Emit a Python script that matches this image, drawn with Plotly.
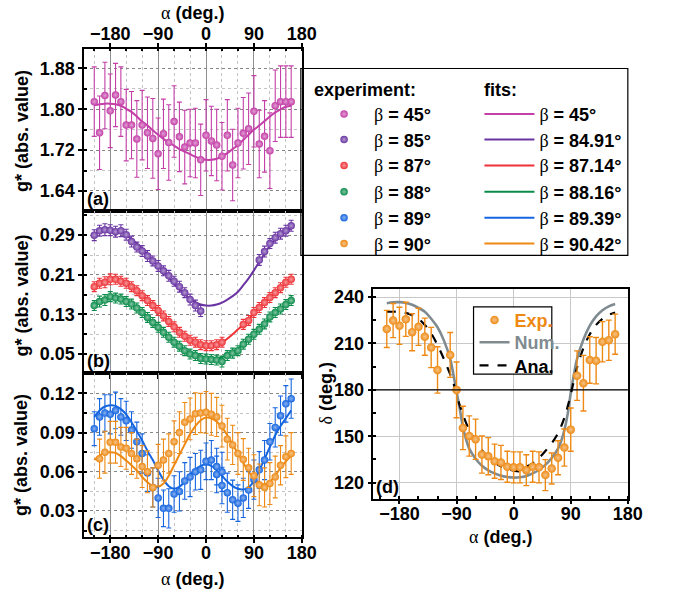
import plotly.graph_objects as go

W, H = 694, 593
FONT = "Liberation Sans, Arial, sans-serif"
SERIF = "Liberation Serif, Times New Roman, serif"

# ---------------- data ----------------
alpha_full = [-210, -200, -190, -180, -170, -160, -150, -140, -130, -120, -110, -100, -90, -80,
              -70, -60, -50, -40, -30, -20, -10, 0, 10, 20, 30, 40, 50, 60, 70, 80, 90, 100,
              110, 120, 130, 140, 150, 160]

# panel (a)  beta = 45
alpha_45 = alpha_full
g_45 = [1.815, 1.754, 1.827, 1.797, 1.828, 1.815, 1.769, 1.769, 1.742, 1.769, 1.754, 1.743, 1.713,
        1.752, 1.735, 1.776, 1.746, 1.726, 1.734, 1.734, 1.701, 1.749, 1.738, 1.730, 1.708, 1.749,
        1.691, 1.734, 1.753, 1.762, 1.796, 1.732, 1.747, 1.719, 1.807, 1.815, 1.815, 1.815]
e_45 = [0.068, 0.072, 0.065, 0.072, 0.062, 0.068, 0.070, 0.066, 0.075, 0.068, 0.070, 0.078, 0.070,
        0.068, 0.074, 0.070, 0.068, 0.072, 0.066, 0.068, 0.070, 0.070, 0.068, 0.070, 0.066, 0.070,
        0.070, 0.068, 0.070, 0.070, 0.070, 0.066, 0.070, 0.074, 0.070, 0.070, 0.070, 0.070]
fit_45 = [1.808, 1.810, 1.811, 1.811, 1.810, 1.807, 1.801, 1.795, 1.786, 1.776, 1.768, 1.759, 1.750,
          1.742, 1.735, 1.729, 1.722, 1.717, 1.712, 1.707, 1.703, 1.701, 1.701, 1.703, 1.708, 1.714,
          1.722, 1.730, 1.740, 1.750, 1.760, 1.768, 1.777, 1.786, 1.794, 1.800, 1.805, 1.807]

# panel (b)
alpha_85 = [-210, -200, -190, -180, -170, -160, -150, -140, -130, -120, -110, -100, -90, -80,
            -70, -60, -50, -40, -30, -20, -10, 100, 110, 120, 130, 140, 150, 160]
g_85 = [0.290, 0.299, 0.301, 0.300, 0.297, 0.299, 0.291, 0.277, 0.266, 0.258, 0.248, 0.238, 0.228,
        0.218, 0.208, 0.197, 0.186, 0.174, 0.160, 0.148, 0.137, 0.240, 0.257, 0.273, 0.285, 0.293,
        0.299, 0.309]
e_85 = [0.011, 0.011, 0.012, 0.011, 0.011, 0.012, 0.011, 0.011, 0.010, 0.011, 0.011, 0.010, 0.011,
        0.010, 0.011, 0.010, 0.011, 0.010, 0.011, 0.011, 0.011, 0.011, 0.011, 0.010, 0.011, 0.011,
        0.011, 0.011]
fit_85 = [0.292, 0.297, 0.299, 0.300, 0.299, 0.296, 0.290, 0.282, 0.273, 0.263, 0.252, 0.240, 0.228,
          0.216, 0.204, 0.192, 0.181, 0.171, 0.162, 0.155, 0.150, 0.148, 0.148, 0.150, 0.154, 0.160,
          0.167, 0.176, 0.189, 0.203, 0.219, 0.236, 0.253, 0.269, 0.281, 0.290, 0.297, 0.303]

alpha_87 = [-210, -200, -190, -180, -170, -160, -150, -140, -130, -120, -110, -100, -90, -80,
            -70, -60, -50, -40, -30, -20, -10, 0, 10, 20, 30, 70, 80, 90, 100, 110, 120, 130,
            140, 150, 160]
g_87 = [0.186, 0.193, 0.195, 0.201, 0.201, 0.197, 0.193, 0.186, 0.178, 0.168, 0.158, 0.148, 0.138,
        0.127, 0.116, 0.105, 0.094, 0.086, 0.078, 0.074, 0.069, 0.067, 0.067, 0.069, 0.074, 0.110,
        0.118, 0.134, 0.144, 0.154, 0.164, 0.174, 0.184, 0.195, 0.201]
e_87 = [0.010, 0.010, 0.011, 0.011, 0.010, 0.010, 0.010, 0.010, 0.010, 0.010, 0.010, 0.010, 0.010,
        0.010, 0.010, 0.010, 0.010, 0.010, 0.010, 0.010, 0.010, 0.010, 0.010, 0.010, 0.010, 0.010,
        0.010, 0.010, 0.010, 0.010, 0.010, 0.010, 0.010, 0.010, 0.010]
fit_87 = [0.188, 0.194, 0.198, 0.200, 0.200, 0.197, 0.192, 0.185, 0.177, 0.168, 0.158, 0.148, 0.137,
          0.126, 0.115, 0.105, 0.095, 0.087, 0.079, 0.073, 0.069, 0.066, 0.066, 0.068, 0.073, 0.081,
          0.090, 0.100, 0.110, 0.121, 0.132, 0.143, 0.154, 0.164, 0.174, 0.184, 0.193, 0.200]

alpha_88 = alpha_full
g_88 = [0.148, 0.156, 0.159, 0.166, 0.163, 0.161, 0.156, 0.151, 0.143, 0.134, 0.124, 0.114, 0.104,
        0.094, 0.084, 0.074, 0.066, 0.057, 0.050, 0.047, 0.041, 0.040, 0.039, 0.038, 0.035, 0.047,
        0.052, 0.057, 0.070, 0.080, 0.090, 0.100, 0.111, 0.125, 0.134, 0.141, 0.150, 0.158]
e_88 = [0.010, 0.011, 0.011, 0.010, 0.010, 0.010, 0.010, 0.010, 0.010, 0.010, 0.010, 0.010, 0.010,
        0.010, 0.010, 0.010, 0.010, 0.010, 0.010, 0.010, 0.010, 0.010, 0.010, 0.010, 0.011, 0.010,
        0.010, 0.010, 0.010, 0.010, 0.010, 0.010, 0.010, 0.010, 0.010, 0.010, 0.010, 0.010]
fit_88 = [0.150, 0.156, 0.160, 0.162, 0.162, 0.160, 0.156, 0.150, 0.142, 0.133, 0.123, 0.113, 0.103,
          0.093, 0.083, 0.074, 0.066, 0.059, 0.053, 0.048, 0.045, 0.043, 0.042, 0.042, 0.044, 0.048,
          0.054, 0.061, 0.070, 0.080, 0.090, 0.101, 0.112, 0.123, 0.133, 0.141, 0.149, 0.156]

# panel (c)
alpha_89 = [-210, -200, -190, -180, -170, -160, -150, -140, -130, -120, -110, -100, -90, -80,
            -70, -60, -50, -40, -30, -20, -10, 0, 10, 20, 20, 30, 30, 40, 50, 60, 70, 80, 90,
            100, 110, 120, 130, 140, 150, 160]
g_89 = [0.093, 0.102, 0.105, 0.104, 0.107, 0.102, 0.099, 0.092, 0.083, 0.074, 0.059, 0.048, 0.040,
        0.032, 0.032, 0.043, 0.045, 0.053, 0.056, 0.060, 0.0615, 0.068, 0.069, 0.064, 0.058, 0.060,
        0.0495, 0.044, 0.0386, 0.036, 0.040, 0.046, 0.054, 0.0615, 0.069, 0.083, 0.094, 0.103,
        0.112, 0.116]
e_89 = [0.013, 0.014, 0.014, 0.015, 0.014, 0.014, 0.015, 0.014, 0.015, 0.015, 0.014, 0.015, 0.015,
        0.014, 0.015, 0.014, 0.015, 0.014, 0.015, 0.014, 0.015, 0.014, 0.015, 0.014, 0.014, 0.015,
        0.014, 0.015, 0.015, 0.014, 0.015, 0.014, 0.015, 0.014, 0.015, 0.014, 0.015, 0.015, 0.014,
        0.015]
fit_89 = [0.102, 0.107, 0.110, 0.111, 0.1105, 0.108, 0.104, 0.098, 0.091, 0.084, 0.076, 0.069, 0.061,
          0.054, 0.049, 0.047, 0.0485, 0.0525, 0.058, 0.062, 0.0645, 0.0655, 0.0645, 0.061, 0.057,
          0.0525, 0.049, 0.047, 0.0465, 0.048, 0.053, 0.061, 0.070, 0.079, 0.088, 0.095, 0.101, 0.107]

alpha_90 = [-200, -190, -180, -170, -160, -150, -140, -130, -120, -110, -100, -90, -80, -70, -60,
            -50, -40, -30, -20, -10, 0, 10, 20, 30, 40, 50, 60, 70, 80, 90, 100, 110, 120, 130,
            140, 150, 160]
g_90 = [0.070, 0.075, 0.0826, 0.0826, 0.079, 0.078, 0.074, 0.070, 0.064, 0.060, 0.048, 0.065, 0.069,
        0.074, 0.083, 0.090, 0.098, 0.1005, 0.1045, 0.105, 0.1055, 0.104, 0.102, 0.095, 0.085, 0.0806,
        0.074, 0.0694, 0.063, 0.057, 0.050, 0.048, 0.051, 0.056, 0.065, 0.0715, 0.074]
e_90 = [0.015, 0.016, 0.016, 0.016, 0.015, 0.016, 0.016, 0.015, 0.016, 0.016, 0.015, 0.016, 0.016,
        0.015, 0.016, 0.016, 0.015, 0.016, 0.016, 0.015, 0.016, 0.016, 0.015, 0.016, 0.016, 0.015,
        0.016, 0.016, 0.015, 0.016, 0.016, 0.015, 0.016, 0.016, 0.015, 0.016, 0.016]
fit_90 = [0.069, 0.0725, 0.0745, 0.075, 0.0745, 0.072, 0.0686, 0.065, 0.061, 0.056, 0.052, 0.049,
          0.0485, 0.051, 0.057, 0.065, 0.073, 0.081, 0.089, 0.095, 0.0995, 0.1015, 0.101, 0.0985,
          0.094, 0.088, 0.081, 0.074, 0.067, 0.060, 0.055, 0.0515, 0.0505, 0.0525, 0.057, 0.063,
          0.068, 0.0725]

# panel (d)
alpha_d = [-200, -190, -180, -170, -160, -150, -140, -130, -120, -100, -90, -80, -70, -60, -50, -40,
           -30, -20, -10, 0, 10, 20, 30, 40, 50, 60, 70, 80, 90, 100, 110, 120, 130, 140, 150, 160]
delta_exp = [219.4, 224.8, 221.4, 225.6, 217.3, 220.8, 214.4, 207.4, 192.9, 202.6, 180.0, 155.4,
             150.2, 148.1, 138.2, 137.1, 133.9, 133.1, 130.3, 129.9, 129.9, 128.1, 130.3, 129.9,
             124.9, 129.2, 136.1, 142.7, 154.3, 189.2, 184.3, 199.3, 198.9, 211.1, 212.1, 216.0]
delta_err = [12, 11, 12, 11, 12, 12, 12, 13, 15, 14.5, 18, 14, 13, 13, 12, 12, 11, 11, 10, 10, 10,
             10, 10, 10, 10, 10, 11, 12, 14, 16, 18, 15, 15, 13, 13, 13]
alpha_num = [-200, -190, -180, -170, -160, -150, -140, -130, -120, -110, -100, -95, -90, -85, -80,
             -75, -70, -60, -50, -40, -30, -20, -10, 0, 10, 20, 30, 40, 50, 60, 70, 75, 80, 85,
             90, 95, 100, 110, 120, 130, 140, 150, 160]
delta_num = [236.0, 236.6, 236.7, 236.2, 235.0, 233.0, 230.5, 226.0, 220.5, 212.0, 200.0, 190.0,
             179.0, 168.0, 156.0, 148.0, 142.0, 135.5, 131.0, 128.0, 126.0, 124.5, 123.7, 123.3,
             123.5, 124.3, 126.0, 128.2, 131.5, 136.0, 142.0, 147.0, 154.0, 164.0, 178.0, 190.0,
             200.0, 212.5, 221.5, 227.5, 231.5, 234.0, 235.5]
alpha_ana = [-200, -190, -180, -170, -160, -150, -140, -130, -120, -110, -100, -95, -90, -85, -80,
             -70, -60, -50, -40, -30, -20, -10, 0, 10, 20, None, 20, 30, 40, 50, 60, 70, 80, 85,
             90, 95, 100, 110, 120, 130, 140, 150, 160]
delta_ana = [230.5, 230.5, 230.5, 229.8, 228.3, 226.0, 222.0, 216.5, 209.0, 200.0, 190.0, 184.5,
             177.0, 170.0, 164.0, 154.0, 147.0, 141.0, 136.0, 133.0, 130.5, 128.8, 127.8, 127.3,
             127.5, None, 130.5, 132.5, 136.0, 140.5, 145.5, 152.0, 162.0, 169.0, 177.0, 186.0,
             194.5, 207.0, 216.0, 222.0, 226.0, 228.5, 230.0]

beta_exp_labels = ["45°", "85°", "87°", "88°", "89°", "90°"]
beta_fit_labels = ["45°", "84.91°", "87.14°", "88.16°", "89.39°", "90.42°"]
d_labels = ["Exp.", "Num.", "Ana."]

# ---------------- styling ----------------
C45, C85, C87, C88, C89, C90 = "#C43FA8", "#6A35A3", "#EE3338", "#0A8C4A", "#1565E0", "#EE8A14"
CNUM = "#7F8B90"


def lighten(hexc, f=0.65):
    r, g, b = int(hexc[1:3], 16), int(hexc[3:5], 16), int(hexc[5:7], 16)
    r, g, b = [int(v + (255 - v) * f) for v in (r, g, b)]
    return f"#{r:02x}{g:02x}{b:02x}"


def px_x(x):
    return x / W


def px_y(y):
    return 1 - y / H


def greek(ch):
    return f"<span style='font-family:{SERIF};font-weight:normal'>{ch}</span>"


def beta_name(lbl):
    return f"{greek('β')}<b> = {lbl}</b>"


def colored(txt, col):
    return f"<b><span style='color:{col}'>{txt}</span></b>"


fig = go.Figure()

exp_sets = [
    (alpha_45, g_45, e_45, C45, "x", "y"),
    (alpha_85, g_85, e_85, C85, "x2", "y2"),
    (alpha_87, g_87, e_87, C87, "x2", "y2"),
    (alpha_88, g_88, e_88, C88, "x2", "y2"),
    (alpha_89, g_89, e_89, C89, "x3", "y3"),
    (alpha_90, g_90, e_90, C90, "x3", "y3"),
]
fit_sets = [
    (fit_45, C45, "x", "y"),
    (fit_85, C85, "x2", "y2"),
    (fit_87, C87, "x2", "y2"),
    (fit_88, C88, "x2", "y2"),
    (fit_89, C89, "x3", "y3"),
    (fit_90, C90, "x3", "y3"),
]

for i, (yv, c, xa, ya) in enumerate(fit_sets):
    fig.add_trace(go.Scatter(x=alpha_full, y=yv, mode="lines", line=dict(color=c, width=2, shape="spline"),
                             xaxis=xa, yaxis=ya, name=beta_name(beta_fit_labels[i]),
                             legend=f"legend{7 + i}", showlegend=True))

for i, (xv, yv, ev, c, xa, ya) in enumerate(exp_sets):
    fig.add_trace(go.Scatter(x=xv, y=yv, mode="markers",
                             marker=dict(color=c, size=7.5, line=dict(width=0),
                                         gradient=dict(type="radial", color=lighten(c, 0.5))),
                             error_y=dict(type="data", array=ev, color=c, thickness=1.1, width=2.5),
                             xaxis=xa, yaxis=ya, name=beta_name(beta_exp_labels[i]),
                             legend="legend" if i == 0 else f"legend{1 + i}", showlegend=True))

# panel d
fig.add_trace(go.Scatter(x=alpha_num, y=delta_num, mode="lines", line=dict(color=CNUM, width=2.6, shape="spline"),
                         xaxis="x4", yaxis="y4", name=colored(d_labels[1], CNUM), legend="legend14"))
fig.add_trace(go.Scatter(x=alpha_ana, y=delta_ana, mode="lines",
                         line=dict(color="black", width=2.2, dash="dash", shape="spline"),
                         xaxis="x4", yaxis="y4", name=colored(d_labels[2], "black"), legend="legend15",
                         connectgaps=False))
fig.add_trace(go.Scatter(x=alpha_d, y=delta_exp, mode="markers",
                         marker=dict(color=C90, size=8.5, line=dict(width=0),
                                     gradient=dict(type="radial", color=lighten(C90, 0.5))),
                         error_y=dict(type="data", array=delta_err, color=C90, thickness=1.4, width=3),
                         xaxis="x4", yaxis="y4", name=colored(d_labels[0], C90), legend="legend13"))

# ---------------- axes ----------------
tickfont = dict(family=FONT, size=18, color="black", weight="bold")
XD = [px_x(86), px_x(308.5)]
XD4 = [px_x(381.7), px_x(641.7)]

xbase = dict(range=[-229, 180], domain=XD, tickmode="linear", tick0=0, dtick=90,
             showline=True, mirror=True, linecolor="black", linewidth=1.5,
             ticks="outside", ticklen=4, tickwidth=1.5, tickcolor="black",
             showgrid=True, gridcolor="#8f8f8f", gridwidth=1, zeroline=False,
             minor=dict(tickmode="linear", tick0=0, dtick=30, showgrid=True, gridcolor="#c4c4c4",
                        griddash="dot", gridwidth=1, ticks="inside", ticklen=3, tickcolor="black"),
             tickfont=tickfont)


def ybase(rng, t0, dt, mdt, dom, fmt):
    return dict(range=rng, domain=dom, tickmode="linear", tick0=t0, dtick=dt, tickformat=fmt,
                showline=True, mirror=True, linecolor="black", linewidth=1.5,
                ticks="outside", ticklen=4, tickwidth=1.5, tickcolor="black",
                showgrid=True, gridcolor="#858585", griddash="dot", gridwidth=1, zeroline=False,
                minor=dict(tickmode="linear", tick0=t0, dtick=mdt, showgrid=True, gridcolor="#c4c4c4",
                           griddash="dot", ticks="inside", ticklen=3, tickcolor="black"),
                tickfont=tickfont)


YA = [px_y(209.6), px_y(46.7)]
YB = [px_y(372.7), px_y(209.6)]
YC = [px_y(537.3), px_y(372.7)]
YD = [px_y(498.3), px_y(288.3)]

fig.update_layout(
    xaxis=dict(xbase, anchor="y", side="top", showticklabels=True, ticklabelstandoff=-4),
    xaxis2=dict(xbase, anchor="y2", showticklabels=False, matches="x"),
    xaxis3=dict(xbase, anchor="y3", side="bottom", showticklabels=True, matches="x",
                ticklabelstandoff=-6),
    yaxis=ybase([1.601, 1.919], 1.64, 0.08, 0.04, YA, ".2f") | dict(anchor="x"),
    yaxis2=ybase([0.011, 0.339], 0.05, 0.08, 0.04, YB, ".2f") | dict(anchor="x2"),
    yaxis3=ybase([0.0097, 0.1353], 0.03, 0.03, 0.015, YC, ".2f") | dict(anchor="x3"),
    xaxis4=dict(range=[-221, 180], domain=XD4, anchor="y4", tickmode="linear", tick0=0, dtick=90,
                showline=True, mirror=True, linecolor="black", linewidth=1.5,
                ticks="outside", ticklen=4, tickwidth=1.5, tickcolor="black", ticklabelstandoff=-6,
                showgrid=True, gridcolor="#c8c8c8", gridwidth=1.2, zeroline=False,
                minor=dict(tickmode="linear", tick0=0, dtick=30, ticks="inside", ticklen=3,
                           tickcolor="black", showgrid=False),
                tickfont=tickfont),
    yaxis4=dict(range=[109.7, 245], domain=YD, anchor="x4", tickmode="linear", tick0=120, dtick=30,
                showline=True, mirror=True, linecolor="black", linewidth=1.5,
                ticks="outside", ticklen=4, tickwidth=1.5, tickcolor="black",
                showgrid=True, gridcolor="#c8c8c8", gridwidth=1.2, zeroline=False,
                minor=dict(tickmode="linear", tick0=120, dtick=15, ticks="inside", ticklen=3,
                           tickcolor="black", showgrid=False),
                tickfont=tickfont),
)

# ---------------- legends (one per row) ----------------
legfont = dict(family=FONT, size=18, color="black")
rows_y = [112.7, 138.3, 164.3, 190.7, 216.7, 242.7]
legends = {}
for i, yy in enumerate(rows_y):
    key = "legend" if i == 0 else f"legend{1 + i}"
    legends[key] = dict(x=px_x(321), y=px_y(yy), xanchor="left", yanchor="middle",
                        bgcolor="rgba(0,0,0,0)", borderwidth=0, font=legfont, itemwidth=50)
    legends[f"legend{7 + i}"] = dict(x=px_x(490), y=px_y(yy), xanchor="left", yanchor="middle",
                                     bgcolor="rgba(0,0,0,0)", borderwidth=0, font=legfont, itemwidth=50)
d_rows = [319.3, 341.7, 365.0]
for key, yy in zip(["legend13", "legend14", "legend15"], d_rows):
    legends[key] = dict(x=px_x(485), y=px_y(yy), xanchor="left", yanchor="middle",
                        bgcolor="rgba(0,0,0,0)", borderwidth=0, font=legfont, itemwidth=30)
fig.update_layout(**legends)

# ---------------- shapes ----------------
shapes = [
    dict(type="rect", xref="paper", yref="paper", x0=px_x(307.5), x1=px_x(641.7),
         y0=px_y(254.3), y1=px_y(66.7), line=dict(color="black", width=1.2), fillcolor="rgba(0,0,0,0)"),
    dict(type="line", xref="x4 domain", yref="y4", x0=0, x1=1, y0=180, y1=180,
         line=dict(color="black", width=1.3)),
    dict(type="rect", xref="paper", yref="paper", x0=px_x(484), x1=px_x(564),
         y0=px_y(373.3), y1=px_y(306), line=dict(color="black", width=1.2), fillcolor="white",
         layer="above"),
]

# ---------------- annotations ----------------
bold = dict(family=FONT, size=18, color="black", weight="bold")
alpha_title = f"{greek('α')}<b> (deg.)</b>"
g_title = "<b>g* (abs. value)</b>"


def pa(text, x, y, **kw):
    d = dict(text=text, x=px_x(x), y=px_y(y), xref="paper", yref="paper", showarrow=False,
             font=bold, xanchor="center", yanchor="middle")
    d.update(kw)
    return d


ann = [
    pa(alpha_title, 197, 11),
    pa(alpha_title, 197, 579),
    pa(alpha_title, 512, 537),
    pa(g_title, 22, 130, textangle=-90),
    pa(g_title, 22, 295, textangle=-90),
    pa(g_title, 22, 455, textangle=-90),
    pa(f"{greek('δ')}<b> (deg.)</b>", 333, 393, textangle=-90),
    pa("<b>experiment:</b>", 319, 88, xanchor="left"),
    pa("<b>fits:</b>", 493, 88, xanchor="left"),
]
for lab, xr, yr in [("(a)", "x", "y"), ("(b)", "x2", "y2"), ("(c)", "x3", "y3"), ("(d)", "x4", "y4")]:
    ann.append(dict(text=f"<b>{lab}</b>", x=0, y=0, xref=f"{xr} domain", yref=f"{yr} domain", xanchor="left",
                    yanchor="bottom", xshift=1, yshift=0, showarrow=False, font=bold))

fig.update_layout(
    width=W, height=H, margin=dict(l=0, r=0, t=0, b=0),
    paper_bgcolor="white", plot_bgcolor="white",
    font=dict(family=FONT, size=18, color="black"),
    shapes=shapes, annotations=ann,
)

fig.write_html("out.html", config={"displayModeBar": False},
               post_script="document.body.style.margin='0px';document.body.style.padding='0px';"
                           "document.body.style.overflow='hidden';")
